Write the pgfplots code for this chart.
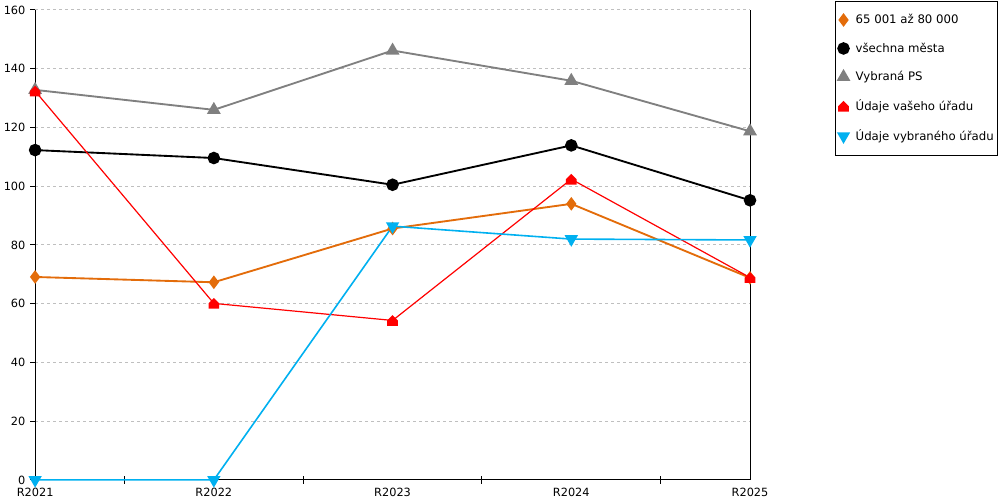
\documentclass[border=0pt]{standalone}
\usepackage{fontspec}
\setmainfont{DejaVu Sans}
\usepackage{pgfplots}
\pgfplotsset{compat=1.18}
\usepackage{pgfplotstable}
\definecolor{cOrange}{RGB}{227,108,10}
\definecolor{cGray}{RGB}{128,128,128}
\definecolor{cRed}{RGB}{255,0,0}
\definecolor{cBlue}{RGB}{0,176,240}
\pgfdeclareplotmark{house}{%
 \pgfpathmoveto{\pgfqpoint{-\pgfplotmarksize}{-\pgfplotmarksize}}%
 \pgfpathlineto{\pgfqpoint{\pgfplotmarksize}{-\pgfplotmarksize}}%
 \pgfpathlineto{\pgfqpoint{\pgfplotmarksize}{0pt}}%
 \pgfpathlineto{\pgfqpoint{0pt}{\pgfplotmarksize}}%
 \pgfpathlineto{\pgfqpoint{-\pgfplotmarksize}{0pt}}%
 \pgfpathclose
 \pgfusepathqfill}
\pgfplotstableread{
x orange black gray red blue
0 69.1 112.3 132.8 132.4 0
1 67.3 109.6 126.0 60.1 0
2 85.6 100.5 146.2 54.3 86.4
3 94.0 113.9 135.9 102.4 82.0
4 68.8 95.2 118.7 68.9 81.7
}\datatable
\begin{document}
\fontsize{8.5}{10}\selectfont
\begin{tikzpicture}
\begin{axis}[
  scale only axis,
  width=536.25pt, height=352.5pt,
  xmin=0, xmax=4, ymin=0, ymax=160,
  clip=false,
  axis line style={draw=none},
  xtick={0,1,2,3,4},
  xticklabels={R2021,R2022,R2023,R2024,R2025},
  minor xtick={0.5,1.5,2.5,3.5},
  ytick={0,20,...,160},
  xtick pos=left, ytick pos=left,
  tick align=outside,
  major tick length=3.75pt,
  minor tick length=6pt,
  x tick style={draw=none},
  minor x tick style={draw=black, line width=0.75pt, yshift=3pt},
  y tick style={black, line width=0.75pt},
  xticklabel style={yshift=1pt},
  yticklabel style={xshift=-0.5pt},
  ymajorgrids,
  grid style={line width=0.75pt, draw=black!25, dash pattern=on 2pt off 2.5pt},
  /pgf/number format/assume math mode=true,
  tick label style={font=\fontsize{8.5}{10}\selectfont},
  legend style={at={(rel axis cs:1.1189,1.0191)}, anchor=north west,
    draw=black, line width=0.75pt, fill=white,
    font=\fontsize{8.8}{10}\selectfont,
    inner xsep=2pt, inner ysep=8.7pt,
    row sep=11.05pt,
    nodes={inner sep=1pt}},
  legend cell align=left,
  legend image code/.code={\path (-0.06cm,0) (0.30cm,0); \draw[#1, only marks] plot coordinates {(0.04cm,0cm)};},
]
\draw[black, line width=0.75pt] (rel axis cs:0,0) -- (rel axis cs:0,1);
\draw[black, line width=0.75pt] (rel axis cs:0,0) -- (rel axis cs:1,0);
\draw[black, line width=0.75pt] (rel axis cs:1,0) -- (rel axis cs:1,1);
\addplot[cOrange, line width=1.4pt, mark=diamond*, mark size=4pt, mark options={draw=none}] table[x=x,y=orange]{\datatable};
\addlegendentry{65 001 až 80 000}
\addplot[black, line width=1.4pt, mark=*, mark size=4pt, mark options={draw=none}] table[x=x,y=black]{\datatable};
\addlegendentry{všechna města}
\addplot[cGray, line width=1.4pt, mark=triangle*, mark size=4.6pt, mark options={draw=none}] table[x=x,y=gray]{\datatable};
\addlegendentry{Vybraná PS}
\addplot[cRed, line width=0.9pt, mark=house, mark size=4pt, mark options={draw=none}] table[x=x,y=red]{\datatable};
\addlegendentry{Údaje vašeho úřadu}
\addplot[cBlue, line width=1.2pt, mark=triangle*, mark size=4.6pt, mark options={draw=none, rotate=180}] table[x=x,y=blue]{\datatable};
\addlegendentry{Údaje vybraného úřadu}
\end{axis}
\path[use as bounding box] (-26.25pt,-15pt) rectangle (723.75pt,360pt);
\end{tikzpicture}
\end{document}
